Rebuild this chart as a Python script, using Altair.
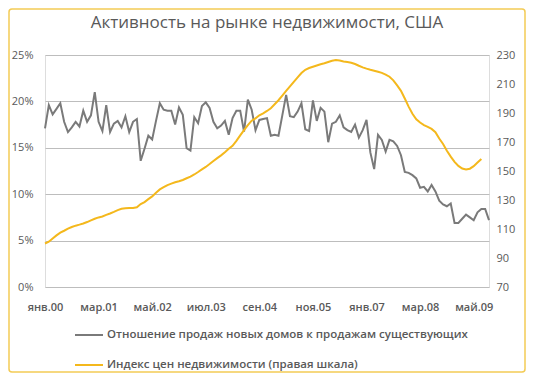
import altair as alt
import pandas as pd

TITLE = "Активность на рынке недвижимости, США"
SERIES = ["Отношение продаж новых домов к продажам существующих",
          "Индекс цен недвижимости (правая  шкала)"]
COLORS = ["#7a7a7a", "#F4B81C"]

tick_labels = ["янв.00", "мар.01", "май.02", "июл.03", "сен.04",
               "ноя.05", "янв.07", "мар.08", "май.09"]
tick_step = 14

# Ratio of new-home sales to existing-home sales, %, monthly from Jan 2000
ratio = [17.1, 19.6, 18.6, 19.2, 19.8, 17.8, 16.7, 17.2, 17.8, 17.3,
         19.0, 17.8, 18.5, 21.0, 17.8, 16.8, 19.6, 16.7, 17.6, 17.9,
         17.2, 18.4, 16.7, 17.8, 18.1, 13.6, 14.9, 16.3, 15.9, 17.9,
         19.8, 19.1, 19.0, 19.0, 17.5, 19.35, 18.55, 14.95, 14.7, 18.3,
         17.65, 19.5, 19.9, 19.3, 17.8, 17.1, 17.4, 17.9, 16.4, 18.2,
         19.0, 19.0, 16.75, 20.2, 19.1, 16.9, 18.0, 18.1, 18.2, 16.3,
         16.4, 16.3, 18.5, 20.7, 18.4, 18.3, 18.9, 19.8, 17.0, 16.8,
         20.1, 17.9, 19.3, 18.9, 15.6, 17.6, 17.8, 18.5, 17.2, 16.9,
         16.7, 17.5, 16.1, 16.9, 18.0, 14.5, 12.7, 16.4, 15.85, 14.6,
         15.85, 15.7, 15.2, 14.2, 12.4, 12.3, 12.05, 11.7, 10.7, 10.8,
         10.3, 11.0, 10.3, 9.3, 8.9, 8.7, 9.0, 6.9, 6.9, 7.35,
         7.8, 7.5, 7.2, 8.05, 8.4, 8.4, 7.2]

# House price index (right scale), monthly from Jan 2000
price = [100.0, 101.2, 103.5, 105.6, 107.5, 108.8, 110.2, 111.4, 112.3, 113.0,
         113.8, 114.8, 116.0, 117.1, 118.0, 118.6, 119.7, 120.7, 121.8, 123.0,
         123.9, 124.3, 124.4, 124.5, 125.0, 127.2, 128.6, 130.6, 132.5, 135.0,
         137.3, 138.8, 140.3, 141.3, 142.2, 142.9, 143.8, 145.0, 146.1, 147.6,
         149.3, 151.1, 152.8, 154.8, 156.9, 158.9, 160.8, 163.0, 165.4, 167.4,
         170.8, 174.6, 178.2, 181.6, 184.7, 186.3, 188.4, 189.8, 191.4, 193.3,
         196.0, 198.8, 202.0, 205.2, 208.3, 211.5, 214.6, 217.6, 219.8, 221.0,
         221.9, 222.8, 223.6, 224.3, 225.2, 226.0, 226.6, 226.2, 225.5, 225.1,
         224.6, 223.8, 222.6, 221.5, 220.6, 219.8, 219.1, 218.4, 217.7, 216.5,
         215.0, 212.5, 209.0, 205.3, 200.0, 194.4, 189.5, 185.7, 183.4, 181.7,
         180.4, 179.0, 176.8, 172.4, 168.6, 164.0, 159.9, 156.3, 153.5, 151.7,
         151.1, 151.6, 153.3, 155.8, 158.3]

ratio_df = pd.DataFrame({"m": range(len(ratio)), "v": [r / 100 for r in ratio],
                         "series": SERIES[0]})
price_df = pd.DataFrame({"m": range(len(price)), "v": price, "series": SERIES[1]})

FONT = "Open Sans"
TXT = "#595959"
W, H = 444, 232
PAD_B = 86

label_arr = "[" + ",".join("'%s'" % t for t in tick_labels) + "]"
x_enc = alt.X("m:Q", scale=alt.Scale(domain=[0, len(ratio) - 1], nice=False, zero=False),
              axis=alt.Axis(values=[i * tick_step for i in range(len(tick_labels))],
                            labelExpr=label_arr + "[round(datum.value/%d)]" % tick_step,
                            title=None, grid=False, ticks=False, domain=False,
                            labelOverlap=False, labelFlush=False, labelPadding=14,
                            labelFontSize=11, labelColor=TXT, labelFont=FONT,
                            labelFontWeight=600))

color = alt.Color("series:N", scale=alt.Scale(domain=SERIES, range=COLORS),
                  legend=alt.Legend(title=None, orient="none", legendX=29, legendY=265,
                                    symbolType="stroke", symbolSize=784,
                                    symbolStrokeWidth=2, labelFontSize=11.5,
                                    labelColor=TXT, labelFont=FONT, labelFontWeight=600,
                                    rowPadding=9, labelOffset=3, padding=0,
                                    labelLimit=500))

left = alt.Chart(ratio_df).mark_line(strokeWidth=2).encode(
    x=x_enc,
    y=alt.Y("v:Q", scale=alt.Scale(domain=[0, 0.25], nice=False),
            axis=alt.Axis(values=[0, 0.05, 0.10, 0.15, 0.20, 0.25], format=".0%",
                          title=None, domain=False, ticks=False, labelPadding=12,
                          gridColor="#BDBDBD", gridWidth=1, labelFontSize=11,
                          labelColor=TXT, labelFont=FONT)),
    color=color,
)

right = alt.Chart(price_df).mark_line(strokeWidth=2).encode(
    x=x_enc,
    y=alt.Y("v:Q", scale=alt.Scale(domain=[70, 230], nice=False, zero=False),
            axis=alt.Axis(orient="right", values=list(range(70, 231, 20)),
                          title=None, domain=False, ticks=False, grid=False,
                          labelPadding=7, labelFontSize=11, labelColor=TXT,
                          labelFont=FONT)),
    color=color,
)

border = alt.Chart(pd.DataFrame({"a": [0]})).mark_rect(
    filled=False, stroke="#F3CB55", strokeWidth=1.5, cornerRadius=3, clip=False
).encode(x=alt.value(-36), x2=alt.value(W + 36), y=alt.value(-46),
         y2=alt.value(H + PAD_B - 1))

chart = alt.layer(border, left, right).resolve_scale(y="independent").properties(
    width=W, height=H,
    title=alt.TitleParams(TITLE, fontSize=17, font=FONT, color=TXT, fontWeight="normal",
                          anchor="middle", offset=-24),
    autosize=alt.AutoSizeParams(type="none"),
    padding={"left": 37, "top": 47, "right": 37, "bottom": PAD_B},
).configure_view(stroke=None).configure(background="white")

chart.save("out.html", embed_options={"renderer": "svg", "actions": False})
